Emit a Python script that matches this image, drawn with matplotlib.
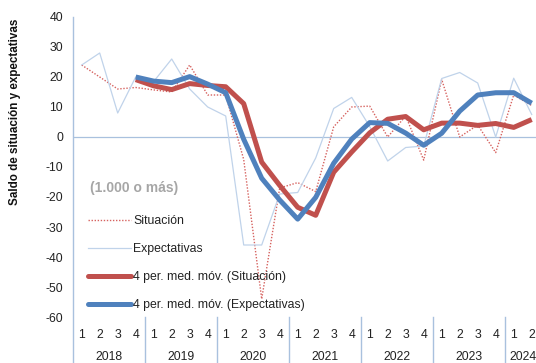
import matplotlib
matplotlib.use("Agg")
import matplotlib.pyplot as plt
import matplotlib.transforms as mtransforms
from matplotlib.lines import Line2D
import pandas as pd

plt.rcParams['font.family'] = ['Liberation Sans', 'DejaVu Sans']
plt.rcParams['axes.unicode_minus'] = False

years = ["2018", "2019", "2020", "2021", "2022", "2023", "2024"]
quarters_per_year = [4, 4, 4, 4, 4, 4, 2]
quarter_labels = ["1", "2", "3", "4"] * 6 + ["1", "2"]

situacion = [24, 20, 16, 16.5, 15.7, 15, 24, 14, 14, -7.5, -54, -17, -15.2, -18.2,
             3.4, 10, 10.3, 0, 7, -7.7, 19.2, 0, 4, -5.2, 14, 10.5]
expectativas = [24, 28, 8, 20, 18.5, 26, 16, 10, 7, -36, -36, -19, -18.5, -7,
                9.5, 13.2, 3.5, -8, -3.5, -3, 19.5, 21.5, 18, 0, 19.6, 7.5]

ma_sit = pd.Series(situacion).rolling(4).mean()
ma_exp = pd.Series(expectativas).rolling(4).mean()

W, H = 536, 363
fig = plt.figure(figsize=(W / 100, H / 100), dpi=100)
ax_l, ax_t, ax_b = 72.7, 17, 317
n = len(situacion)
ax_w = n * 18
ax = fig.add_axes([ax_l / W, (H - ax_b) / H, ax_w / W, (ax_b - ax_t) / H])

x = list(range(n))
axis_col = "#A9C1DE"
red = "#C0504D"
blue = "#4F81BD"
fs = 8.8

ax.plot(x, situacion, color="#D6625F", lw=1.0, ls=(0, (1, 1.2)), label="Situación")
ax.plot(x, expectativas, color="#C0D3EA", lw=0.9, label="Expectativas")
ax.plot(x, ma_sit, color=red, lw=3.6, solid_capstyle="butt", label="4 per. med. móv. (Situación)")
ax.plot(x, ma_exp, color=blue, lw=3.6, solid_capstyle="butt", label="4 per. med. móv. (Expectativas)")

ax.set_xlim(-0.5, n - 0.5)
ax.set_ylim(-60, 40)
ax.set_yticks(range(-60, 41, 10))
ax.tick_params(axis="y", length=0, pad=7, labelsize=fs, colors="#222222")
ax.set_xticks(x)
ax.set_xticklabels(quarter_labels)
ax.tick_params(axis="x", length=0, pad=8.5, labelsize=fs, colors="#222222")
for s in ["top", "right", "bottom", "left"]:
    ax.spines[s].set_visible(False)
ax.axhline(0, color=axis_col, lw=0.9, zorder=0)

# left axis line down to the bottom of the figure
trans = mtransforms.blended_transform_factory(ax.transData, fig.transFigure)
ax.add_line(Line2D([-0.5, -0.5], [0, (H - ax_t) / H], transform=trans, color=axis_col,
                   lw=1.0, clip_on=False))
start = 0
for yr, nq in zip(years, quarters_per_year):
    end = start + nq
    if end < n:
        ax.add_line(Line2D([end - 0.5, end - 0.5], [0, (H - ax_b) / H], transform=trans,
                           color=axis_col, lw=1.0, clip_on=False))
    ax.text((start + end - 1) / 2, (H - 357) / H, yr, transform=trans, ha="center",
            va="center", fontsize=fs, color="#222222")
    start = end

fig.text(15 / W, 1 - 112 / H, "Saldo de situación y expectativas", rotation=90,
         ha="center", va="center", fontsize=8.4, fontweight="bold", color="#111111")

fig.text(90 / W, 1 - 188 / H, "(1.000 o más)", ha="left", va="center",
         fontsize=10, fontweight="bold", color="#A6A6A6")

handles = [
    Line2D([], [], color="#D6625F", lw=1.0, ls=(0, (1, 1.2))),
    Line2D([], [], color="#C0D3EA", lw=0.9),
    Line2D([], [], color=red, lw=3.6, solid_capstyle="round"),
    Line2D([], [], color=blue, lw=3.6, solid_capstyle="round"),
]
labels = ["Situación", "Expectativas", "4 per. med. móv. (Situación)",
          "4 per. med. móv. (Expectativas)"]
leg = ax.legend(handles, labels, loc="upper left",
                bbox_to_anchor=(88 / W, 1 - 215.5 / H), bbox_transform=fig.transFigure,
                frameon=False, fontsize=fs, handlelength=3.5, handletextpad=0.2,
                labelspacing=1.3, borderpad=0, borderaxespad=0)
for t in leg.get_texts():
    t.set_color("#222222")

fig.savefig("out.png", dpi=100)
